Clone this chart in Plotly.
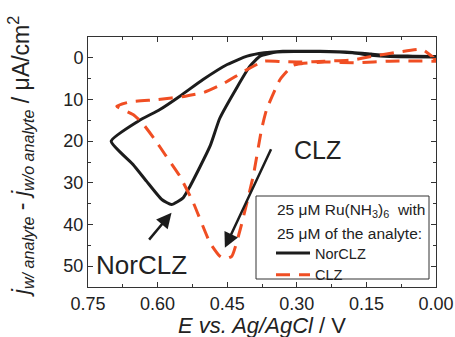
import plotly.graph_objects as go

# NorCLZ (black solid) potential (V) and current (uA/cm2)
nor_E = [0.00, 0.05, 0.10, 0.14, 0.18, 0.25, 0.30, 0.33, 0.37, 0.407, 0.45, 0.502, 0.552, 0.595,
         0.642, 0.70, 0.653, 0.624, 0.591, 0.570, 0.545, 0.530, 0.487, 0.466, 0.429, 0.401,
         0.379, 0.343, 0.30, 0.25, 0.18, 0.14, 0.10, 0.00]
nor_j = [-0.3, -0.4, -0.5, -0.9, -1.3, -1.6, -1.6, -1.6, -1.2, -0.4, 1.6, 5.2, 9.2, 12.4,
         15.2, 20.0, 25.6, 29.6, 34.0, 35.2, 33.6, 30.8, 21.2, 14.5, 7.1, 2.0,
         -0.4, -1.4, -1.5, -1.5, -1.2, -0.6, -0.3, -0.2]

# CLZ (red dashed)
clz_E = [0.00, 0.03, 0.08, 0.14, 0.18, 0.24, 0.29, 0.33, 0.37, 0.41, 0.46, 0.50, 0.54, 0.60,
         0.66, 0.688, 0.653, 0.634, 0.606, 0.584, 0.552, 0.523, 0.487, 0.466, 0.455, 0.44,
         0.422, 0.394, 0.376, 0.365, 0.336, 0.308, 0.29, 0.24, 0.17, 0.10, 0.00]
clz_j = [0.5, -2.0, -1.4, -0.3, 0.5, 0.8, 1.0, 0.9, 0.8, 3.0, 6.3, 8.3, 9.2, 10.0,
         10.6, 11.6, 13.6, 15.5, 19.6, 23.2, 28.4, 34.8, 44.4, 47.6, 48.3, 47.6,
         41.2, 28.4, 17.2, 12.4, 5.2, 1.8, 1.4, 1.0, 1.2, 0.8, 0.8]

x_ticks = [0.75, 0.60, 0.45, 0.30, 0.15, 0.00]
y_ticks = [0, 10, 20, 30, 40, 50]

# annotation arrows: (tail E, tail j, head E, head j)
arrow_nor = (0.621, 44.0, 0.570, 37.2)
arrow_clz = (0.354, 21.6, 0.455, 45.6)

BLACK = "#1c1c1c"
RED = "#F04E23"
TXT = "#222"
FONT = "Liberation Sans, Arial, sans-serif"

fig = go.Figure()
fig.add_trace(go.Scatter(x=nor_E, y=nor_j, mode="lines", name="NorCLZ",
                         line=dict(color=BLACK, width=3, shape="spline", smoothing=0.5)))
fig.add_trace(go.Scatter(x=clz_E, y=clz_j, mode="lines", name="CLZ",
                         line=dict(color=RED, width=3, dash="14px,9px", shape="spline", smoothing=0.5)))

axis_common = dict(showline=True, linecolor="#333", linewidth=1, mirror="ticks",
                   ticks="inside", ticklen=5, tickcolor="#333", showgrid=False, zeroline=False,
                   automargin=False, tickfont=dict(family=FONT, size=18, color=TXT))

fig.update_xaxes(range=[0.75, 0.0], tickvals=x_ticks, tickformat=".2f",
                 minor=dict(dtick=0.075, ticks="inside", ticklen=3, tickcolor="#333"),
                 **axis_common)
fig.update_yaxes(range=[55, -5], tickvals=y_ticks,
                 minor=dict(dtick=5, ticks="inside", ticklen=3, tickcolor="#333"),
                 **axis_common)

# axis titles
fig.add_annotation(x=0.5, y=-0.152, xref="paper", yref="paper", yanchor="middle",
                   text="<i>E vs. Ag/AgCl</i> / V", showarrow=False,
                   font=dict(family=FONT, size=22, color=TXT))
fig.add_annotation(x=-0.195, y=0.52, xref="paper", yref="paper", xanchor="center", yanchor="middle",
                   textangle=-90, showarrow=False,
                   text="<i>j</i><sub><i>w/ analyte</i></sub> - <i>j</i><sub><i>w/o analyte</i></sub> / μA/cm<sup>2</sup>",
                   font=dict(family=FONT, size=23, color=TXT))

for (tx, ty, hx, hy) in (arrow_nor, arrow_clz):
    fig.add_annotation(x=hx, y=hy, ax=tx, ay=ty, axref="x", ayref="y", xref="x", yref="y",
                       text="", showarrow=True, arrowhead=2, arrowsize=1.2, arrowwidth=2.5,
                       arrowcolor=BLACK)

fig.add_annotation(x=0.256, y=22.0, xref="x", yref="y", text="CLZ", showarrow=False,
                   font=dict(family=FONT, size=25, color=TXT))
fig.add_annotation(x=0.634, y=49.6, xref="x", yref="y", text="NorCLZ", showarrow=False,
                   font=dict(family=FONT, size=26, color=TXT))

# legend box and header
fig.add_shape(type="rect", xref="paper", yref="paper",
              x0=(256 - 88) / 348, x1=(429 - 88) / 348, y0=(287 - 279) / 250, y1=(287 - 196) / 250,
              line=dict(color="#333", width=1), fillcolor="white", layer="above")
fig.add_annotation(x=(275 - 88) / 348, y=(287 - 210) / 250, xref="paper", yref="paper",
                   xanchor="left", yanchor="middle", showarrow=False,
                   text="25 μM Ru(NH<sub>3</sub>)<sub>6</sub>  with",
                   font=dict(family=FONT, size=15.5, color=TXT))
fig.add_annotation(x=(275 - 88) / 348, y=(287 - 233) / 250, xref="paper", yref="paper",
                   xanchor="left", yanchor="middle", showarrow=False,
                   text="25 μM of the analyte:",
                   font=dict(family=FONT, size=15.5, color=TXT))

fig.update_layout(
    width=455, height=337,
    margin=dict(l=88, r=19, t=37, b=50, autoexpand=False),
    plot_bgcolor="white", paper_bgcolor="white",
    font=dict(family=FONT, color=TXT),
    legend=dict(x=(271 - 88) / 348, y=(287 - 237) / 250, xanchor="left", yanchor="top",
                borderwidth=0, bgcolor="rgba(0,0,0,0)",
                font=dict(family=FONT, size=14.5, color=TXT),
                tracegroupgap=0, itemwidth=34),
)

fig.write_html("out.html", config={"displayModeBar": False},
               post_script="document.body.style.margin='0';document.body.style.overflow='hidden';")
